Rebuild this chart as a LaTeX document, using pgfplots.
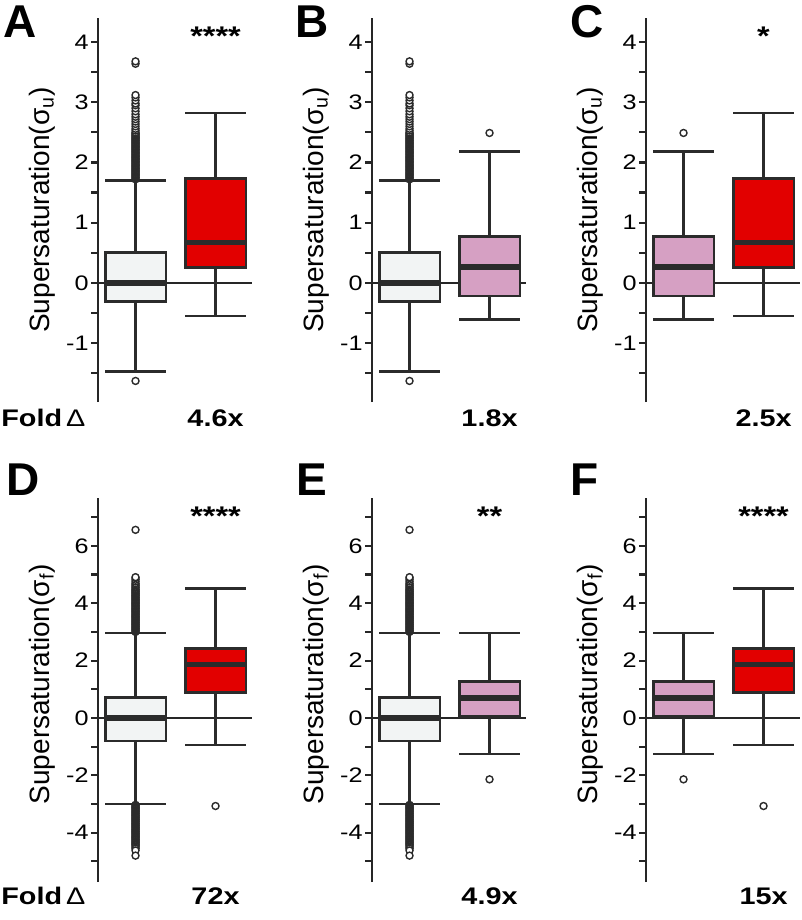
\documentclass[border=0pt]{standalone}
\usepackage{pgfplots}
\pgfplotsset{compat=1.18}
\usepgfplotslibrary{statistics}
\usepackage{fontspec}
\setmainfont{Liberation Sans}
\newfontfamily\wfont[FakeStretch=1.2]{Liberation Sans}
\definecolor{axcol}{HTML}{262626}
\definecolor{edgecol}{HTML}{2B2B2B}
\definecolor{grayfill}{HTML}{F2F4F4}
\definecolor{redfill}{HTML}{E20000}
\definecolor{pinkfill}{HTML}{D6A0C3}
\pgfplotsset{
  panel/.style={
    scale only axis, width=77pt, height=192pt,
    axis y line*=left, axis x line=none,
    xmin=0.531, xmax=2.456, xtick=\empty,
    clip=false,
    y axis line style={line width=1.1pt, draw=axcol},
    ytick style={line width=1.1pt, draw=axcol},
    tick align=outside, major tick length=3.5pt,
    yticklabel style={font=\wfont\fontsize{10.5}{11}\selectfont, text=black, inner sep=1pt},
    ylabel style={font=\fontsize{14}{16}\selectfont, at={(axis description cs:-0.364,0.5)}, anchor=center},
    boxplot/draw direction=y,
  },
  toprow/.style={panel, ymin=-1.98, ymax=4.40,
    ytick={-1.5,-1,-0.5,0,0.5,1,1.5,2,2.5,3,3.5,4},
    yticklabels={{},-1,{},0,{},1,{},2,{},3,{},4},
    ylabel={Supersaturation(σ\textsubscript{u})}},
  botrow/.style={panel, ymin=-5.72, ymax=7.67,
    ytick={-5,-4,-3,-2,-1,0,1,2,3,4,5,6,7},
    yticklabels={{},-4,{},-2,{},0,{},2,{},4,{},6,{}},
    ylabel={Supersaturation(σ\textsubscript{f})},
    ylabel style={at={(axis description cs:-0.364,0.515)}}},
  bx/.style={
    boxplot/box extend=0.76, boxplot/whisker extend=0.76,
    boxplot/every box/.style={draw=edgecol, fill=#1, line width=1.4pt},
    boxplot/every whisker/.style={draw=edgecol, line width=1.2pt},
    boxplot/every median/.style={draw=edgecol, line width=2.8pt},
    draw=edgecol, line width=1.2pt,
    mark=*, mark size=1.75pt, mark options={fill=white, draw=edgecol, line width=0.7pt, solid},
  },
  zl/.style={line width=1.1pt, color=axcol},
}
\newcommand{\foldfont}{\wfont\bfseries\fontsize{12}{13}\selectfont}
\newcommand{\starfont}{\wfont\bfseries\fontsize{13.5}{14}\selectfont}
\newcommand{\letfont}{\bfseries\fontsize{23}{24}\selectfont}
\begin{document}
\begin{tikzpicture}
\useasboundingbox (0,0) rectangle (401pt,-460pt);
% ---------------- Panel A ----------------
\begin{axis}[toprow, at={(49pt,-201pt)}, anchor=south west]
\addplot[zl] coordinates {(0.531,0) (2.456,0)};
\addplot[bx=grayfill, boxplot prepared={draw position=1, median=0, lower quartile=-0.31, upper quartile=0.50, lower whisker=-1.47, upper whisker=1.70}]
  table[row sep=\\, y index=0] {v\\ 1.72\\ 1.735\\ 1.75\\ 1.765\\ 1.78\\ 1.795\\ 1.81\\ 1.825\\ 1.84\\ 1.855\\ 1.87\\ 1.885\\ 1.90\\ 1.915\\ 1.93\\ 1.945\\ 1.96\\ 1.975\\ 1.99\\ 2.005\\ 2.02\\ 2.035\\ 2.05\\ 2.065\\ 2.08\\ 2.095\\ 2.11\\ 2.125\\ 2.14\\ 2.155\\ 2.17\\ 2.185\\ 2.20\\ 2.215\\ 2.23\\ 2.245\\ 2.26\\ 2.275\\ 2.29\\ 2.305\\ 2.32\\ 2.335\\ 2.35\\ 2.365\\ 2.38\\ 2.395\\ 2.41\\ 2.425\\ 2.44\\ 2.455\\ 2.47\\ 2.485\\ 2.50\\ 2.53\\ 2.56\\ 2.60\\ 2.64\\ 2.68\\ 2.72\\ 2.76\\ 2.80\\ 2.85\\ 2.90\\ 2.95\\ 2.98\\ 3.03\\ 3.08\\ 3.12\\ 3.64\\ 3.68\\ -1.63\\};
\addplot[bx=redfill, boxplot prepared={draw position=2, median=0.67, lower quartile=0.26, upper quartile=1.74, lower whisker=-0.55, upper whisker=2.82}]
  coordinates {};
\node[font=\starfont, anchor=base] at (axis cs:2,3.94) {****};
\node[font=\foldfont, anchor=base] at (axis cs:2,-2.387) {4.6x};
\end{axis}
% ---------------- Panel B ----------------
\begin{axis}[toprow, at={(186pt,-201pt)}, anchor=south west]
\addplot[zl] coordinates {(0.531,0) (2.456,0)};
\addplot[bx=grayfill, boxplot prepared={draw position=1, median=0, lower quartile=-0.31, upper quartile=0.50, lower whisker=-1.47, upper whisker=1.70}]
  table[row sep=\\, y index=0] {v\\ 1.72\\ 1.735\\ 1.75\\ 1.765\\ 1.78\\ 1.795\\ 1.81\\ 1.825\\ 1.84\\ 1.855\\ 1.87\\ 1.885\\ 1.90\\ 1.915\\ 1.93\\ 1.945\\ 1.96\\ 1.975\\ 1.99\\ 2.005\\ 2.02\\ 2.035\\ 2.05\\ 2.065\\ 2.08\\ 2.095\\ 2.11\\ 2.125\\ 2.14\\ 2.155\\ 2.17\\ 2.185\\ 2.20\\ 2.215\\ 2.23\\ 2.245\\ 2.26\\ 2.275\\ 2.29\\ 2.305\\ 2.32\\ 2.335\\ 2.35\\ 2.365\\ 2.38\\ 2.395\\ 2.41\\ 2.425\\ 2.44\\ 2.455\\ 2.47\\ 2.485\\ 2.50\\ 2.53\\ 2.56\\ 2.60\\ 2.64\\ 2.68\\ 2.72\\ 2.76\\ 2.80\\ 2.85\\ 2.90\\ 2.95\\ 2.98\\ 3.03\\ 3.08\\ 3.12\\ 3.64\\ 3.68\\ -1.63\\};
\addplot[bx=pinkfill, boxplot prepared={draw position=2, median=0.26, lower quartile=-0.22, upper quartile=0.77, lower whisker=-0.61, upper whisker=2.18}]
  table[row sep=\\, y index=0] {v\\ 2.49\\};
\node[font=\foldfont, anchor=base] at (axis cs:2,-2.387) {1.8x};
\end{axis}
% ---------------- Panel C ----------------
\begin{axis}[toprow, at={(323pt,-201pt)}, anchor=south west]
\addplot[zl] coordinates {(0.531,0) (2.456,0)};
\addplot[bx=pinkfill, boxplot prepared={draw position=1, median=0.26, lower quartile=-0.22, upper quartile=0.77, lower whisker=-0.61, upper whisker=2.18}]
  table[row sep=\\, y index=0] {v\\ 2.49\\};
\addplot[bx=redfill, boxplot prepared={draw position=2, median=0.67, lower quartile=0.26, upper quartile=1.74, lower whisker=-0.55, upper whisker=2.82}]
  coordinates {};
\node[font=\starfont, anchor=base] at (axis cs:2,3.94) {*};
\node[font=\foldfont, anchor=base] at (axis cs:2,-2.387) {2.5x};
\end{axis}
% ---------------- Panel D ----------------
\begin{axis}[botrow, at={(49pt,-441pt)}, anchor=south west]
\addplot[zl] coordinates {(0.531,0) (2.456,0)};
\addplot[bx=grayfill, boxplot prepared={draw position=1, median=0, lower quartile=-0.80, upper quartile=0.72, lower whisker=-3.00, upper whisker=2.96}]
  table[row sep=\\, y index=0] {v\\ 3.00\\ 3.03\\ 3.06\\ 3.09\\ 3.12\\ 3.15\\ 3.18\\ 3.21\\ 3.24\\ 3.27\\ 3.30\\ 3.33\\ 3.36\\ 3.39\\ 3.42\\ 3.45\\ 3.48\\ 3.51\\ 3.54\\ 3.57\\ 3.60\\ 3.63\\ 3.66\\ 3.69\\ 3.72\\ 3.75\\ 3.78\\ 3.81\\ 3.84\\ 3.87\\ 3.90\\ 3.93\\ 3.96\\ 3.99\\ 4.02\\ 4.05\\ 4.08\\ 4.11\\ 4.14\\ 4.17\\ 4.20\\ 4.23\\ 4.26\\ 4.29\\ 4.32\\ 4.35\\ 4.38\\ 4.41\\ 4.44\\ 4.47\\ 4.50\\ 4.54\\ 4.58\\ 4.62\\ 4.66\\ 4.70\\ 4.76\\ 4.82\\ 4.88\\ 4.91\\ 6.56\\ -3.03\\ -3.06\\ -3.09\\ -3.12\\ -3.15\\ -3.18\\ -3.21\\ -3.24\\ -3.27\\ -3.30\\ -3.33\\ -3.36\\ -3.39\\ -3.42\\ -3.45\\ -3.48\\ -3.51\\ -3.54\\ -3.57\\ -3.60\\ -3.63\\ -3.66\\ -3.69\\ -3.72\\ -3.75\\ -3.78\\ -3.81\\ -3.84\\ -3.87\\ -3.90\\ -3.93\\ -3.96\\ -3.99\\ -4.02\\ -4.05\\ -4.08\\ -4.11\\ -4.14\\ -4.17\\ -4.20\\ -4.23\\ -4.26\\ -4.29\\ -4.32\\ -4.35\\ -4.38\\ -4.41\\ -4.44\\ -4.48\\ -4.52\\ -4.56\\ -4.62\\ -4.80\\};
\addplot[bx=redfill, boxplot prepared={draw position=2, median=1.86, lower quartile=0.90, upper quartile=2.41, lower whisker=-0.94, upper whisker=4.52}]
  table[row sep=\\, y index=0] {v\\ -3.07\\};
\node[font=\starfont, anchor=base] at (axis cs:2,6.72) {****};
\node[font=\foldfont, anchor=base] at (axis cs:2,-6.49) {72x};
\end{axis}
% ---------------- Panel E ----------------
\begin{axis}[botrow, at={(186pt,-441pt)}, anchor=south west]
\addplot[zl] coordinates {(0.531,0) (2.456,0)};
\addplot[bx=grayfill, boxplot prepared={draw position=1, median=0, lower quartile=-0.80, upper quartile=0.72, lower whisker=-3.00, upper whisker=2.96}]
  table[row sep=\\, y index=0] {v\\ 3.00\\ 3.03\\ 3.06\\ 3.09\\ 3.12\\ 3.15\\ 3.18\\ 3.21\\ 3.24\\ 3.27\\ 3.30\\ 3.33\\ 3.36\\ 3.39\\ 3.42\\ 3.45\\ 3.48\\ 3.51\\ 3.54\\ 3.57\\ 3.60\\ 3.63\\ 3.66\\ 3.69\\ 3.72\\ 3.75\\ 3.78\\ 3.81\\ 3.84\\ 3.87\\ 3.90\\ 3.93\\ 3.96\\ 3.99\\ 4.02\\ 4.05\\ 4.08\\ 4.11\\ 4.14\\ 4.17\\ 4.20\\ 4.23\\ 4.26\\ 4.29\\ 4.32\\ 4.35\\ 4.38\\ 4.41\\ 4.44\\ 4.47\\ 4.50\\ 4.54\\ 4.58\\ 4.62\\ 4.66\\ 4.70\\ 4.76\\ 4.82\\ 4.88\\ 4.91\\ 6.56\\ -3.03\\ -3.06\\ -3.09\\ -3.12\\ -3.15\\ -3.18\\ -3.21\\ -3.24\\ -3.27\\ -3.30\\ -3.33\\ -3.36\\ -3.39\\ -3.42\\ -3.45\\ -3.48\\ -3.51\\ -3.54\\ -3.57\\ -3.60\\ -3.63\\ -3.66\\ -3.69\\ -3.72\\ -3.75\\ -3.78\\ -3.81\\ -3.84\\ -3.87\\ -3.90\\ -3.93\\ -3.96\\ -3.99\\ -4.02\\ -4.05\\ -4.08\\ -4.11\\ -4.14\\ -4.17\\ -4.20\\ -4.23\\ -4.26\\ -4.29\\ -4.32\\ -4.35\\ -4.38\\ -4.41\\ -4.44\\ -4.48\\ -4.52\\ -4.56\\ -4.62\\ -4.80\\};
\addplot[bx=pinkfill, boxplot prepared={draw position=2, median=0.70, lower quartile=0.05, upper quartile=1.27, lower whisker=-1.26, upper whisker=2.96}]
  table[row sep=\\, y index=0] {v\\ -2.14\\};
\node[font=\starfont, anchor=base] at (axis cs:2,6.72) {**};
\node[font=\foldfont, anchor=base] at (axis cs:2,-6.49) {4.9x};
\end{axis}
% ---------------- Panel F ----------------
\begin{axis}[botrow, at={(323pt,-441pt)}, anchor=south west]
\addplot[zl] coordinates {(0.531,0) (2.456,0)};
\addplot[bx=pinkfill, boxplot prepared={draw position=1, median=0.70, lower quartile=0.05, upper quartile=1.27, lower whisker=-1.26, upper whisker=2.96}]
  table[row sep=\\, y index=0] {v\\ -2.14\\};
\addplot[bx=redfill, boxplot prepared={draw position=2, median=1.86, lower quartile=0.90, upper quartile=2.41, lower whisker=-0.94, upper whisker=4.52}]
  table[row sep=\\, y index=0] {v\\ -3.07\\};
\node[font=\starfont, anchor=base] at (axis cs:2,6.72) {****};
\node[font=\foldfont, anchor=base] at (axis cs:2,-6.49) {15x};
\end{axis}
% ---------------- panel letters and row labels ----------------
\node[font=\letfont, anchor=base west, inner sep=0pt] at (1.5pt,-19pt) {A};
\node[font=\letfont, anchor=base west, inner sep=0pt] at (147.5pt,-19pt) {B};
\node[font=\letfont, anchor=base west, inner sep=0pt] at (285pt,-19pt) {C};
\node[font=\letfont, anchor=base west, inner sep=0pt] at (3pt,-247.5pt) {D};
\node[font=\letfont, anchor=base west, inner sep=0pt] at (148pt,-247.5pt) {E};
\node[font=\letfont, anchor=base west, inner sep=0pt] at (285pt,-247.5pt) {F};
\node[anchor=base west, inner sep=0pt] at (0.5pt,-213.3pt) {\foldfont Fold\,{\mdseries Δ}};
\node[anchor=base west, inner sep=0pt] at (0.5pt,-452pt) {\foldfont Fold\,{\mdseries Δ}};
\end{tikzpicture}
\end{document}
